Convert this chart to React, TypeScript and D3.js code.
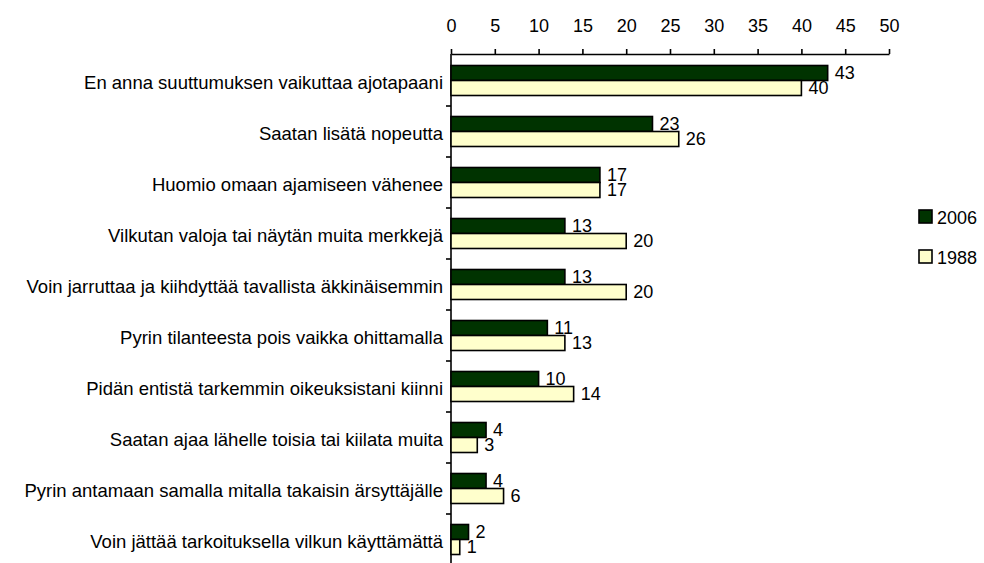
import React, { useEffect, useRef } from 'react';
import { select, scaleLinear, scaleBand, axisTop } from 'd3';

const categories = [
  'En anna suuttumuksen vaikuttaa ajotapaani',
  'Saatan lisätä nopeutta',
  'Huomio omaan ajamiseen vähenee',
  'Vilkutan valoja tai näytän muita merkkejä',
  'Voin jarruttaa ja kiihdyttää tavallista äkkinäisemmin',
  'Pyrin tilanteesta pois vaikka ohittamalla',
  'Pidän entistä tarkemmin oikeuksistani kiinni',
  'Saatan ajaa lähelle toisia tai kiilata muita',
  'Pyrin antamaan samalla mitalla takaisin ärsyttäjälle',
  'Voin jättää tarkoituksella vilkun käyttämättä',
];
const seriesNames = ['2006', '1988'];
const values2006 = [43, 23, 17, 13, 13, 11, 10, 4, 4, 2];
const values1988 = [40, 26, 17, 20, 20, 13, 14, 3, 6, 1];
const tickValues = [0, 5, 10, 15, 20, 25, 30, 35, 40, 45, 50];
const colors = ['#003300', '#FFFFCC'];

const FONT = 'Arial, "Liberation Sans", sans-serif';

export default function App() {
  const svgRef = useRef<SVGSVGElement>(null);

  useEffect(() => {
    const width = 984;
    const height = 563;
    const svg = select(svgRef.current);
    svg.selectAll('*').remove();
    svg.attr('width', width).attr('height', height);

    const x = scaleLinear().domain([0, 50]).range([451, 889]);
    const y = scaleBand<string>().domain(categories).range([55, 565]);
    const inner = scaleBand<string>()
      .domain(seriesNames)
      .range([10.5, y.bandwidth() - 10.5]);

    // top axis
    const ax = svg
      .append('g')
      .attr('transform', 'translate(0,54)')
      .call(axisTop(x).tickValues(tickValues).tickSize(5).tickSizeOuter(0).tickPadding(17));
    ax.selectAll('path, line').attr('stroke', '#000').attr('stroke-width', 1.6);
    ax.selectAll('text')
      .attr('font-family', FONT)
      .attr('font-size', 18)
      .attr('fill', '#000');

    // left axis line + ticks between categories
    svg
      .append('line')
      .attr('x1', x(0))
      .attr('x2', x(0))
      .attr('y1', 54)
      .attr('y2', 570)
      .attr('stroke', '#000')
      .attr('stroke-width', 1.6);
    svg
      .selectAll('.ytick')
      .data(categories.slice(1))
      .join('line')
      .attr('class', 'ytick')
      .attr('x1', x(0) - 5)
      .attr('x2', x(0))
      .attr('y1', (d) => y(d)!)
      .attr('y2', (d) => y(d)!)
      .attr('stroke', '#000')
      .attr('stroke-width', 1.6);

    // category labels
    svg
      .selectAll('.cat')
      .data(categories)
      .join('text')
      .attr('class', 'cat')
      .attr('x', x(0) - 8)
      .attr('y', (d) => y(d)! + y.bandwidth() / 2 + 2)
      .attr('dy', '0.35em')
      .attr('text-anchor', 'end')
      .attr('font-family', FONT)
      .attr('font-size', 18.5)
      .attr('fill', '#000')
      .text((d) => d);

    const rows = categories.map((c, i) => ({ c, vals: [values2006[i], values1988[i]] }));

    const groups = svg
      .selectAll('.row')
      .data(rows)
      .join('g')
      .attr('class', 'row')
      .attr('transform', (d) => `translate(0,${y(d.c)})`);

    seriesNames.forEach((s, si) => {
      groups
        .append('rect')
        .attr('x', x(0))
        .attr('y', inner(s)!)
        .attr('width', (d) => x(d.vals[si]) - x(0))
        .attr('height', inner.bandwidth())
        .attr('fill', colors[si])
        .attr('stroke', '#000')
        .attr('stroke-width', 1.6);
      groups
        .append('text')
        .attr('x', (d) => x(d.vals[si]) + 7)
        .attr('y', inner(s)! + inner.bandwidth() / 2)
        .attr('dy', '0.36em')
        .attr('font-family', FONT)
        .attr('font-size', 18)
        .attr('fill', '#000')
        .text((d) => d.vals[si]);
    });

    // legend
    const legend = svg
      .selectAll('.leg')
      .data(seriesNames)
      .join('g')
      .attr('class', 'leg')
      .attr('transform', (d, i) => `translate(919,${210 + i * 40})`);
    legend
      .append('rect')
      .attr('width', 13)
      .attr('height', 13)
      .attr('fill', (d, i) => colors[i])
      .attr('stroke', '#000')
      .attr('stroke-width', 1.6);
    legend
      .append('text')
      .attr('x', 18)
      .attr('y', 14)
      .attr('font-family', FONT)
      .attr('font-size', 18)
      .attr('fill', '#000')
      .text((d) => d);
  }, []);

  return (
    <svg
      ref={svgRef}
      style={{ position: 'absolute', left: 0, top: 0, display: 'block', background: '#fff' }}
    />
  );
}
